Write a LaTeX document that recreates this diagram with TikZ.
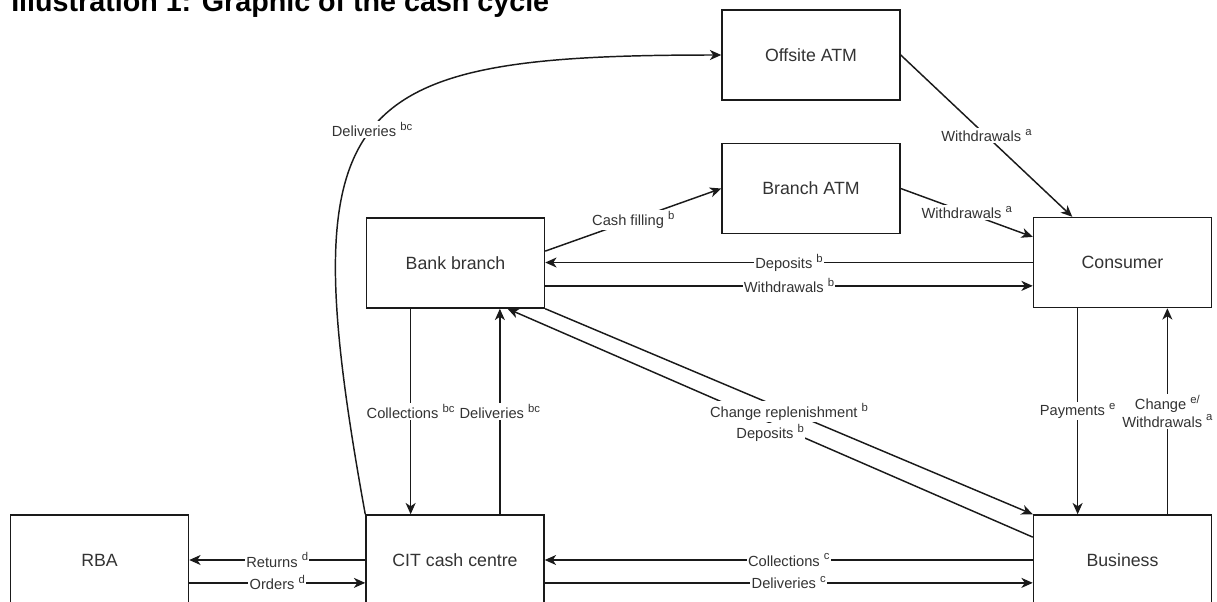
\documentclass[tikz,border=0pt]{standalone}
\usepackage{fontspec}
\setmainfont{Liberation Sans}
\usetikzlibrary{arrows.meta,calc}
\definecolor{txt}{HTML}{333333}
\definecolor{lncol}{HTML}{1A1A1A}
\newcommand\spr[1]{\raisebox{0.42em}{\fontsize{8.5}{8.5}\selectfont #1}}
\begin{document}
\begin{tikzpicture}[x=0.75pt,y=-0.75pt,
  box/.style={draw=lncol, line width=1.1pt, minimum width=133.5pt, minimum height=67.5pt, inner sep=0pt, font=\fontsize{13.3}{16}\selectfont, text=txt, fill=white},
  lbl/.style={fill=white, inner sep=1pt, font=\fontsize{11}{13}\selectfont, text=txt},
  arr/.style={draw=lncol, line width=1.1pt, -{Stealth[length=8.5pt,width=7.5pt,inset=2.5pt]}},
  plain/.style={draw=lncol, line width=1.1pt}]
\useasboundingbox (0,0) rectangle (1217,601);
\clip (0,0) rectangle (1217,601);

% title
\node[anchor=base west, inner sep=0pt, font=\fontsize{21.5}{24}\selectfont\bfseries] (title) at (11,11) {Illustration 1: Graphic of the cash cycle};

% boxes
\node[box] (offsite) at (811,55) {Offsite ATM};
\node[box] (branchatm) at (811,188.5) {Branch ATM};
\node[box] (bank) at (455.5,263) {Bank branch};
\node[box] (consumer) at (1122.5,262.5) {Consumer};
\node[box] (rba) at (99.5,560) {RBA};
\node[box] (cit) at (455,560) {CIT cash centre};
\node[box] (business) at (1122.5,560) {Business};

% CIT -> Offsite ATM (curve)
\draw[arr] (cit.north west) .. controls (290,100) and (340,55) .. node[lbl,pos=0.5]{Deliveries \spr{bc}} (offsite.west);

% Offsite ATM -> Consumer
\draw[arr] (offsite.east) -- node[lbl]{Withdrawals \spr{a}} ($(consumer.north west)!0.22!(consumer.north east)$);

% Branch ATM -> Consumer
\draw[arr] (branchatm.east) -- node[lbl]{Withdrawals \spr{a}} ($(consumer.north west)!0.22!(consumer.south west)$);

% Bank branch -> Branch ATM
\draw[arr] ($(bank.north east)!0.37!(bank.south east)$) -- node[lbl]{Cash filling \spr{b}} (branchatm.west);

% Consumer -> Bank branch (Deposits)
\draw[arr] (consumer.west) -- node[lbl]{Deposits \spr{b}} (consumer.west -| bank.east);

% Bank branch -> Consumer (Withdrawals)
\coordinate (bankE75) at ($(bank.north east)!0.75!(bank.south east)$);
\draw[arr] (bankE75) -- node[lbl]{Withdrawals \spr{b}} (bankE75 -| consumer.west);

% Bank branch <-> CIT
\coordinate (bankS25) at ($(bank.south west)!0.25!(bank.south east)$);
\coordinate (citN75) at ($(cit.north west)!0.75!(cit.north east)$);
\draw[arr] (bankS25) -- node[lbl]{Collections \spr{bc}} (bankS25 |- cit.north);
\draw[arr] (citN75) -- node[lbl]{Deliveries \spr{bc}} (citN75 |- bank.south);

% Bank branch <-> Business (diagonals)
\coordinate (busW25) at ($(business.north west)!0.25!(business.south west)$);
\coordinate (bankS79) at ($(bank.south west)!0.79!(bank.south east)$);
\draw[arr] (busW25) -- node[lbl,pos=0.5,yshift=-7.5pt]{Deposits \spr{b}} (bankS79);
\draw[arr] (bank.south east) -- node[lbl,pos=0.5]{Change replenishment \spr{b}} (business.north west);

% Consumer <-> Business
\coordinate (conS25) at ($(consumer.south west)!0.25!(consumer.south east)$);
\coordinate (busN75) at ($(business.north west)!0.75!(business.north east)$);
\draw[arr] (conS25) -- node[lbl]{Payments \spr{e}} (conS25 |- business.north);
\draw[arr] (busN75) -- node[lbl,align=center]{Change \spr{e/}\\Withdrawals \spr{a}} (busN75 |- consumer.south);

% Business <-> CIT
\coordinate (citE75) at ($(cit.north east)!0.75!(cit.south east)$);
\draw[arr] (business.west) -- node[lbl]{Collections \spr{c}} (business.west -| cit.east);
\draw[arr] (citE75) -- node[lbl]{Deliveries \spr{c}} (citE75 -| business.west);

% CIT <-> RBA
\coordinate (rbaE75) at ($(rba.north east)!0.75!(rba.south east)$);
\draw[arr] (cit.west) -- node[lbl]{Returns \spr{d}} (cit.west -| rba.east);
\draw[arr] (rbaE75) -- node[lbl]{Orders \spr{d}} (rbaE75 -| cit.west);
\end{tikzpicture}
\end{document}
